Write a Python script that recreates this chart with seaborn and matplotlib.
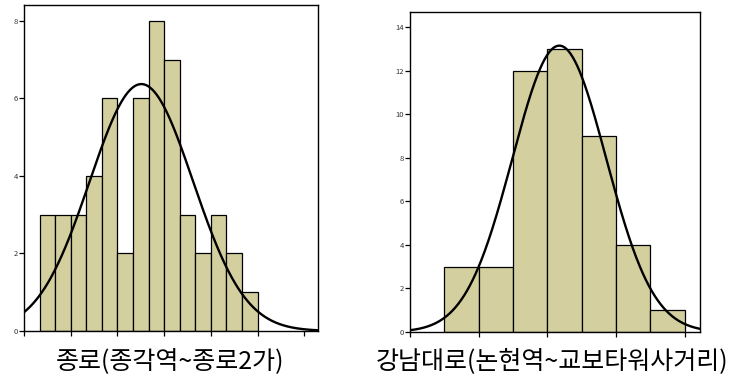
import numpy as np
import pandas as pd
import matplotlib
matplotlib.use("Agg")
import matplotlib.pyplot as plt
import seaborn as sns

# Frequency counts per class interval (class index units)
jongno_title = "종로(종각역~종로2가)"
jongno_counts = [3, 3, 3, 4, 6, 2, 6, 8, 7, 3, 2, 3, 2, 1]
jongno_yticks = [0, 2, 4, 6, 8]

gangnam_title = "강남대로(논현역~교보타워사거리)"
gangnam_counts = [3, 3, 12, 13, 9, 4, 1]
gangnam_yticks = [0, 2, 4, 6, 8, 10, 12, 14]

sns.set_style("white")
plt.rcParams["font.family"] = ["Noto Sans CJK KR", "DejaVu Sans"]

BAR = "#D4CF9E"

fig = plt.figure(figsize=(7.31, 3.76), dpi=100)
ax1 = fig.add_axes([0.0328, 0.1197, 0.402, 0.867])
ax2 = fig.add_axes([0.561, 0.117, 0.397, 0.851])


def draw(ax, counts, xmax, xstep, ymax, yticks, title, title_x):
    counts = np.asarray(counts, dtype=float)
    edges = [float(e) for e in range(1, len(counts) + 2)]
    centers = np.array(edges[:-1]) + 0.5
    df = pd.DataFrame({"x": centers, "n": counts})
    sns.histplot(data=df, x="x", weights="n", bins=edges, ax=ax,
                 color=BAR, edgecolor="black", linewidth=0.9, alpha=1.0)

    # fitted normal curve (mean / sd of the grouped data, scaled to counts)
    n = counts.sum()
    mu = (centers * counts).sum() / n
    sd = np.sqrt(((centers - mu) ** 2 * counts).sum() / n)
    xs = np.linspace(0, xmax, 400)
    ys = n / (sd * np.sqrt(2 * np.pi)) * np.exp(-0.5 * ((xs - mu) / sd) ** 2)
    sns.lineplot(x=xs, y=ys, ax=ax, color="black", linewidth=1.7)

    ax.set_xlim(0, xmax)
    ax.set_ylim(0, ymax)
    ax.set_xticks(np.arange(0, xmax, xstep))
    ax.set_xticklabels([])
    ax.set_yticks(yticks)
    ax.set_yticklabels([str(v) for v in yticks], fontsize=5.5, color="#333333")
    ax.tick_params(axis="both", direction="out", length=3.5, width=0.9,
                   color="black", pad=1, left=True, bottom=True)
    ax.set_xlabel("")
    ax.set_ylabel("")
    for s in ax.spines.values():
        s.set_visible(True)
        s.set_color("black")
        s.set_linewidth(1.0)
    fig.text(title_x, 0.04, title, ha="center", va="center", fontsize=18,
             color="black")


draw(ax1, jongno_counts, 18.87, 3, 8.41, jongno_yticks, jongno_title, 170 / 731)
draw(ax2, gangnam_counts, 8.45, 2, 14.69, gangnam_yticks, gangnam_title, 552 / 731)

fig.savefig("out.png", dpi=100)
